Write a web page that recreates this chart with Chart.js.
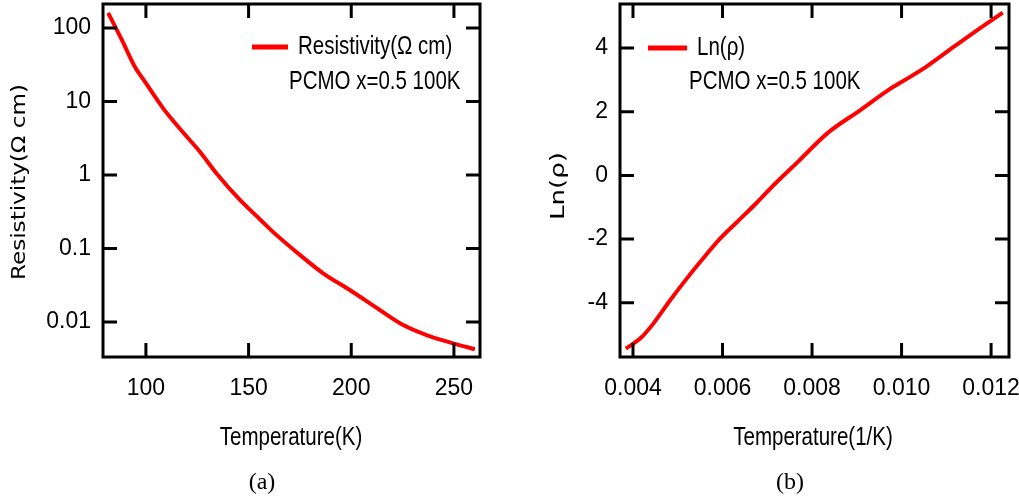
<!DOCTYPE html>
<html>
<head>
<meta charset="utf-8">
<script src="https://cdn.jsdelivr.net/npm/chart.js@4.4.1/dist/chart.umd.min.js"></script>
<style>
  html, body { margin: 0; padding: 0; background: #fff; }
  #wrap { position: relative; width: 1019px; height: 497px; overflow: hidden; }
  #wrap canvas { position: absolute; top: 0; }
</style>
</head>
<body>
<div id="wrap">
  <canvas id="chartRes" width="510" height="497" style="left:0"></canvas>
  <canvas id="chartLn" width="509" height="497" style="left:510px"></canvas>
</div>
<script>
// (a) resistivity vs temperature
var tempK = [81.6, 88.3, 94.6, 99.5, 108.4, 119, 126.3, 134.4, 145.8, 155.5, 161.6, 173.4, 186.3, 199.3, 213.9, 225.3, 236.7, 249.6, 260.2];
var resistivity = [161, 68.7, 29.7, 18.6, 8.07, 3.55, 2.07, 1.05, 0.457, 0.25, 0.171, 0.089, 0.046, 0.0272, 0.01456, 0.0091, 0.00665, 0.00513, 0.00426];
var resTicksX = [100, 150, 200, 250];
var resTicksY = [0.01, 0.1, 1, 10, 100];

// (b) ln(rho) vs 1/T
var invT = [0.00384, 0.00419, 0.00445, 0.00483, 0.0052, 0.0055, 0.00595, 0.00632, 0.00677, 0.00714, 0.00770, 0.00834, 0.00908, 0.00976, 0.0102, 0.01058, 0.01117, 0.0117, 0.01226];
var lnRho = [-5.44, -5.08, -4.66, -3.92, -3.24, -2.72, -1.98, -1.47, -0.85, -0.31, 0.45, 1.32, 2.05, 2.73, 3.10, 3.44, 4.04, 4.57, 5.11];
var lnTicksX = [0.004, 0.006, 0.008, 0.010, 0.012];
var lnTicksY = [-4, -2, 0, 2, 4];

var SANS = "'Liberation Sans', Arial, sans-serif";
var WIDE = "'DejaVu Sans', Verdana, sans-serif";

function pts(xs, ys) {
  return xs.map(function (v, i) { return { x: v, y: ys[i] }; });
}

// narrow text: Liberation Sans squeezed like Arial Narrow
function narrowText(ctx, text, x, y, align) {
  ctx.save();
  ctx.font = '25px ' + SANS;
  var w = ctx.measureText(text).width * 0.82;
  var x0 = align === 'center' ? x - w / 2 : x;
  ctx.translate(x0, y);
  ctx.scale(0.82, 1);
  ctx.textAlign = 'left';
  ctx.textBaseline = 'middle';
  ctx.fillText(text, 0, 0);
  ctx.restore();
}

// frame, inward ticks, legend box and the titles
var framePlugin = {
  id: 'frame',
  afterDatasetsDraw: function (chart, args, o) {
    var ctx = chart.ctx, a = chart.chartArea;
    var sx = chart.scales.x, sy = chart.scales.y;
    ctx.save();
    ctx.strokeStyle = '#000';
    ctx.lineWidth = 3;
    ctx.beginPath();
    sx.ticks.forEach(function (t) {
      var p = sx.getPixelForValue(t.value);
      ctx.moveTo(p, a.bottom); ctx.lineTo(p, a.bottom - 14);
      ctx.moveTo(p, a.top); ctx.lineTo(p, a.top + 14);
    });
    sy.ticks.forEach(function (t) {
      var p = sy.getPixelForValue(t.value);
      ctx.moveTo(a.left, p); ctx.lineTo(a.left + 14, p);
      ctx.moveTo(a.right, p); ctx.lineTo(a.right - 14, p);
    });
    ctx.stroke();
    ctx.strokeRect(a.left, a.top, a.width, a.height);

    // legend
    var ds = chart.data.datasets[0];
    ctx.strokeStyle = ds.borderColor;
    ctx.lineWidth = 5;
    ctx.beginPath();
    ctx.moveTo(o.legend.x0, o.legend.y); ctx.lineTo(o.legend.x1, o.legend.y);
    ctx.stroke();
    ctx.fillStyle = '#000';
    narrowText(ctx, ds.label, o.legend.tx, o.legend.y, 'left');
    narrowText(ctx, o.note.text, o.note.x, o.note.y, 'left');

    // x title
    narrowText(ctx, o.xTitle.text, o.xTitle.x, o.xTitle.y, 'center');

    // y title, stretched to the reference length
    ctx.font = '20px ' + WIDE;
    ctx.textAlign = 'center';
    ctx.textBaseline = 'middle';
    var w = ctx.measureText(o.yTitle.text).width;
    ctx.save();
    ctx.translate(o.yTitle.x, o.yTitle.y);
    ctx.rotate(-Math.PI / 2);
    ctx.scale(o.yTitle.len / w, 1);
    ctx.fillText(o.yTitle.text, 0, 0);
    ctx.restore();

    // panel tag
    ctx.font = '24px "Liberation Serif", "DejaVu Serif", serif';
    ctx.fillText(o.tag.text, o.tag.x, o.tag.y);
    ctx.restore();
  }
};

function noPad(s) {
  s.paddingTop = 0; s.paddingBottom = 0; s.paddingLeft = 0; s.paddingRight = 0;
}

function baseOptions(xMin, xMax, yType, yMin, yMax, xTicks, yTicks, xFmt, pad, frameOpts) {
  return {
    responsive: false,
    animation: false,
    devicePixelRatio: 1,
    layout: { padding: { left: pad.left, top: pad.top, right: pad.right, bottom: 0 } },
    scales: {
      x: {
        type: 'linear', min: xMin, max: xMax,
        grid: { display: false, drawTicks: false }, border: { display: false },
        afterBuildTicks: function (s) { s.ticks = xTicks.map(function (v) { return { value: v }; }); },
        afterFit: function (s) { s.height = 140; noPad(s); },
        ticks: { color: '#000', font: { family: SANS, size: 23 }, padding: 18, maxRotation: 0,
                 callback: xFmt }
      },
      y: {
        type: yType, min: yMin, max: yMax,
        grid: { display: false, drawTicks: false }, border: { display: false },
        afterBuildTicks: function (s) { s.ticks = yTicks.map(function (v) { return { value: v }; }); },
        afterFit: function (s) { s.width = pad.yWidth; noPad(s); },
        ticks: { color: '#000', font: { family: SANS, size: 23 }, padding: 12,
                 callback: function (v) { return String(v); } }
      }
    },
    plugins: { legend: { display: false }, tooltip: { enabled: false }, frame: frameOpts }
  };
}

new Chart(document.getElementById('chartRes'), {
  type: 'scatter',
  data: { datasets: [{
    label: 'Resistivity(\u03A9 cm)',
    data: pts(tempK, resistivity),
    showLine: true, pointRadius: 0,
    borderColor: '#ff0000', borderWidth: 4,
    cubicInterpolationMode: 'monotone'
  }] },
  options: baseOptions(79.1, 262.7, 'logarithmic', 0.00334, 212, resTicksX, resTicksY,
    function (v) { return String(v); },
    { left: 0, top: 4, right: 30, yWidth: 103 },
    {
      legend: { x0: 252, x1: 288, y: 47, tx: 298 },
      note: { text: 'PCMO x=0.5 100K', x: 289, y: 82 },
      xTitle: { text: 'Temperature(K)', x: 291, y: 438 },
      yTitle: { text: 'Resistivity(\u03A9 cm)', x: 20, y: 182, len: 196 },
      tag: { text: '(a)', x: 262, y: 483 }
    }),
  plugins: [framePlugin]
});

new Chart(document.getElementById('chartLn'), {
  type: 'scatter',
  data: { datasets: [{
    label: 'Ln(\u03C1)',
    data: pts(invT, lnRho),
    showLine: true, pointRadius: 0,
    borderColor: '#ff0000', borderWidth: 4,
    cubicInterpolationMode: 'monotone'
  }] },
  options: baseOptions(0.00371, 0.0124, 'linear', -5.70, 5.38, lnTicksX, lnTicksY,
    function (v) { return v.toFixed(3); },
    { left: 0, top: 4, right: 10, yWidth: 110 },
    {
      legend: { x0: 138, x1: 177, y: 48, tx: 187 },
      note: { text: 'PCMO x=0.5 100K', x: 179, y: 82 },
      xTitle: { text: 'Temperature(1/K)', x: 303, y: 438 },
      yTitle: { text: 'Ln(\u03C1)', x: 49, y: 186, len: 68 },
      tag: { text: '(b)', x: 280, y: 483 }
    }),
  plugins: [framePlugin]
});
</script>
</body>
</html>
